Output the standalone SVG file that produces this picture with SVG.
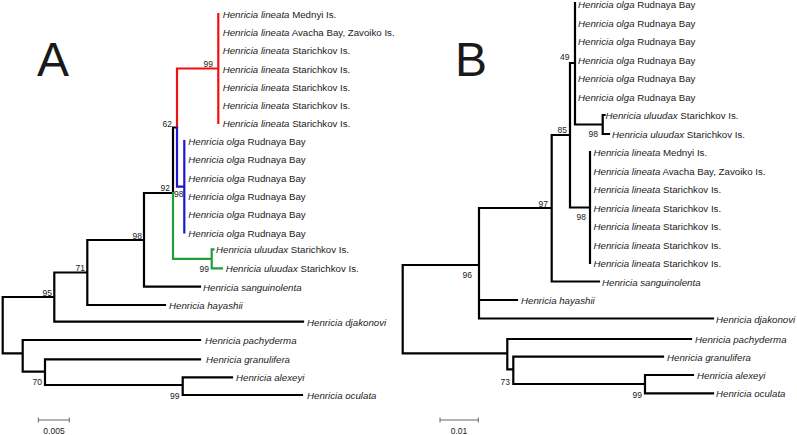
<svg xmlns="http://www.w3.org/2000/svg" width="797" height="435" viewBox="0 0 797 435">
<style>
.b{fill:none;stroke:#000;stroke-width:2.2;stroke-linecap:square}
.r{fill:none;stroke:#f01010;stroke-width:2.2;stroke-linecap:square}
.u{fill:none;stroke:#1a1acc;stroke-width:2.2;stroke-linecap:square}
.g{fill:none;stroke:#1f9e3a;stroke-width:2.2;stroke-linecap:square}
.sc{fill:none;stroke:#666;stroke-width:1}
text{font-family:"Liberation Sans",Arial,sans-serif;fill:#1a1a1a}
.t{font-size:9.7px}
.t tspan.i,.i{font-style:italic}
.n{font-size:8.5px;text-anchor:end}
.s{font-size:8.5px;text-anchor:middle}
.big{font-size:48px}
</style>
<rect width="797" height="435" fill="#fff"/>
<g id="connectors">
<path class="b" d="M2.7 297V353.3M2.7 297H54.3M54.3 272.5V321.7M54.3 272.5H87.3M87.3 240V305M87.3 240H144M144 193V286.7M144 193H173M173 127.5V193M173 127.5H177M144 286.7H200M87.3 305H165M54.3 321.7H303M2.7 353.3H22.7M22.7 340V371.7M22.7 340H200M22.7 371.7H45M45 359.3V385M45 359.3H200M45 385H182.7M182.7 377.3V395M182.7 377.3H232M182.7 395H302"/>
<path class="r" d="M177 68.5V127.5M177 68.5H218.3M218.3 14V123"/>
<path class="u" d="M177 127.5V186.7M177 186.7H184.3M184.3 141V232.5"/>
<path class="g" d="M173 193V258.8M173 258.8H211.7M211.7 249.3V268.3M211.7 249.3H213.5M211.7 268.3H222"/>
<path class="b" d="M402.7 265V353.3M402.7 265H479M479 208V318.5M479 208H551.7M551.7 135V281.5M551.7 135H570M570 63V207.5M570 63H575M575 3V124.5M575 124.5H602.7M602.7 115V134M602.7 115H604.5M602.7 134H609M570 207.5H590M590 152V263M551.7 281.5H599M479 300H517M479 318.5H713M402.7 353.3H507.3M507.3 339V369.3M507.3 339H691M507.3 369.3H513.3M513.3 356.7V384M513.3 356.7H663M513.3 384H645M645 375V393.3M645 375H693M645 393.3H713"/>
<path class="sc" d="M38.3 420H69.3M38.3 417.5V422.5M69.3 417.5V422.5M440 420H478.3M440 417.5V422.5M478.3 417.5V422.5"/>
</g>
<g id="panelA">
<text class="big" x="37" y="76">A</text>
<g id="a-lin1"><text class="t" x="222.7" y="18"><tspan class="i">Henricia lineata</tspan> Mednyi Is.</text></g>
<g id="a-lin2"><text class="t" x="222.7" y="36.2"><tspan class="i">Henricia lineata</tspan> Avacha Bay, Zavoiko Is.</text></g>
<g id="a-lin3"><text class="t" x="222.7" y="54.3"><tspan class="i">Henricia lineata</tspan> Starichkov Is.</text></g>
<g id="a-lin4"><text class="t" x="222.7" y="72.5"><tspan class="i">Henricia lineata</tspan> Starichkov Is.</text></g>
<g id="a-lin5"><text class="t" x="222.7" y="90.7"><tspan class="i">Henricia lineata</tspan> Starichkov Is.</text></g>
<g id="a-lin6"><text class="t" x="222.7" y="108.8"><tspan class="i">Henricia lineata</tspan> Starichkov Is.</text></g>
<g id="a-lin7"><text class="t" x="222.7" y="127"><tspan class="i">Henricia lineata</tspan> Starichkov Is.</text></g>
<g id="a-olg1"><text class="t" x="188.3" y="145"><tspan class="i">Henricia olga</tspan> Rudnaya Bay</text></g>
<g id="a-olg2"><text class="t" x="188.3" y="163.3"><tspan class="i">Henricia olga</tspan> Rudnaya Bay</text></g>
<g id="a-olg3"><text class="t" x="188.3" y="181.6"><tspan class="i">Henricia olga</tspan> Rudnaya Bay</text></g>
<g id="a-olg4"><text class="t" x="188.3" y="199.9"><tspan class="i">Henricia olga</tspan> Rudnaya Bay</text></g>
<g id="a-olg5"><text class="t" x="188.3" y="218.2"><tspan class="i">Henricia olga</tspan> Rudnaya Bay</text></g>
<g id="a-olg6"><text class="t" x="188.3" y="236.5"><tspan class="i">Henricia olga</tspan> Rudnaya Bay</text></g>
<g id="a-ulu1"><text class="t" x="216" y="253.3"><tspan class="i">Henricia uluudax</tspan> Starichkov Is.</text></g>
<g id="a-ulu2"><text class="t" x="225.7" y="272.3"><tspan class="i">Henricia uluudax</tspan> Starichkov Is.</text></g>
<g id="a-san"><text class="t i" x="203" y="290.7">Henricia sanguinolenta</text></g>
<g id="a-hay"><text class="t i" x="169" y="309">Henricia hayashii</text></g>
<g id="a-dja"><text class="t i" x="307" y="325.7">Henricia djakonovi</text></g>
<g id="a-pac"><text class="t i" x="205" y="344">Henricia pachyderma</text></g>
<g id="a-gra"><text class="t i" x="206" y="363.3">Henricia granulifera</text></g>
<g id="a-ale"><text class="t i" x="236" y="381.3">Henricia alexeyi</text></g>
<g id="a-ocu"><text class="t i" x="307" y="399">Henricia oculata</text></g>
<g id="a-bs">
<text class="n" x="213" y="67">99</text>
<text class="n" x="172" y="126.5">62</text>
<text class="n" x="170" y="190.5">92</text>
<text class="n" x="183.5" y="197">98</text>
<text class="n" x="209" y="272">99</text>
<text class="n" x="142" y="238.5">98</text>
<text class="n" x="85" y="271">71</text>
<text class="n" x="52" y="296">95</text>
<text class="n" x="42" y="385">70</text>
<text class="n" x="179.5" y="399">99</text>
</g>
<g id="a-scale"><text class="s" x="54" y="434">0.005</text></g>
</g>
<g id="panelB">
<text class="big" x="455" y="76">B</text>
<g id="b-olg1"><text class="t" x="578" y="8"><tspan class="i">Henricia olga</tspan> Rudnaya Bay</text></g>
<g id="b-olg2"><text class="t" x="578" y="26.5"><tspan class="i">Henricia olga</tspan> Rudnaya Bay</text></g>
<g id="b-olg3"><text class="t" x="578" y="45"><tspan class="i">Henricia olga</tspan> Rudnaya Bay</text></g>
<g id="b-olg4"><text class="t" x="578" y="63.5"><tspan class="i">Henricia olga</tspan> Rudnaya Bay</text></g>
<g id="b-olg5"><text class="t" x="578" y="82"><tspan class="i">Henricia olga</tspan> Rudnaya Bay</text></g>
<g id="b-olg6"><text class="t" x="578" y="100.5"><tspan class="i">Henricia olga</tspan> Rudnaya Bay</text></g>
<g id="b-ulu1"><text class="t" x="605.5" y="119"><tspan class="i">Henricia uluudax</tspan> Starichkov Is.</text></g>
<g id="b-ulu2"><text class="t" x="612" y="138"><tspan class="i">Henricia uluudax</tspan> Starichkov Is.</text></g>
<g id="b-lin1"><text class="t" x="593.5" y="156"><tspan class="i">Henricia lineata</tspan> Mednyi Is.</text></g>
<g id="b-lin2"><text class="t" x="593.5" y="174.5"><tspan class="i">Henricia lineata</tspan> Avacha Bay, Zavoiko Is.</text></g>
<g id="b-lin3"><text class="t" x="593.5" y="193"><tspan class="i">Henricia lineata</tspan> Starichkov Is.</text></g>
<g id="b-lin4"><text class="t" x="593.5" y="211.5"><tspan class="i">Henricia lineata</tspan> Starichkov Is.</text></g>
<g id="b-lin5"><text class="t" x="593.5" y="230"><tspan class="i">Henricia lineata</tspan> Starichkov Is.</text></g>
<g id="b-lin6"><text class="t" x="593.5" y="248.5"><tspan class="i">Henricia lineata</tspan> Starichkov Is.</text></g>
<g id="b-lin7"><text class="t" x="593.5" y="267"><tspan class="i">Henricia lineata</tspan> Starichkov Is.</text></g>
<g id="b-san"><text class="t i" x="602" y="285.5">Henricia sanguinolenta</text></g>
<g id="b-hay"><text class="t i" x="521" y="304">Henricia hayashii</text></g>
<g id="b-dja"><text class="t i" x="716" y="322.5">Henricia djakonovi</text></g>
<g id="b-pac"><text class="t i" x="695" y="343">Henricia pachyderma</text></g>
<g id="b-gra"><text class="t i" x="667" y="360.7">Henricia granulifera</text></g>
<g id="b-ale"><text class="t i" x="697" y="379">Henricia alexeyi</text></g>
<g id="b-ocu"><text class="t i" x="716" y="397.3">Henricia oculata</text></g>
<g id="b-bs">
<text class="n" x="569.5" y="60">49</text>
<text class="n" x="598" y="136.5">98</text>
<text class="n" x="567" y="133">85</text>
<text class="n" x="586" y="220">98</text>
<text class="n" x="548" y="206.5">97</text>
<text class="n" x="472" y="278">96</text>
<text class="n" x="510" y="385">73</text>
<text class="n" x="642" y="398">99</text>
</g>
<g id="b-scale"><text class="s" x="459" y="434">0.01</text></g>
</g>
</svg>
